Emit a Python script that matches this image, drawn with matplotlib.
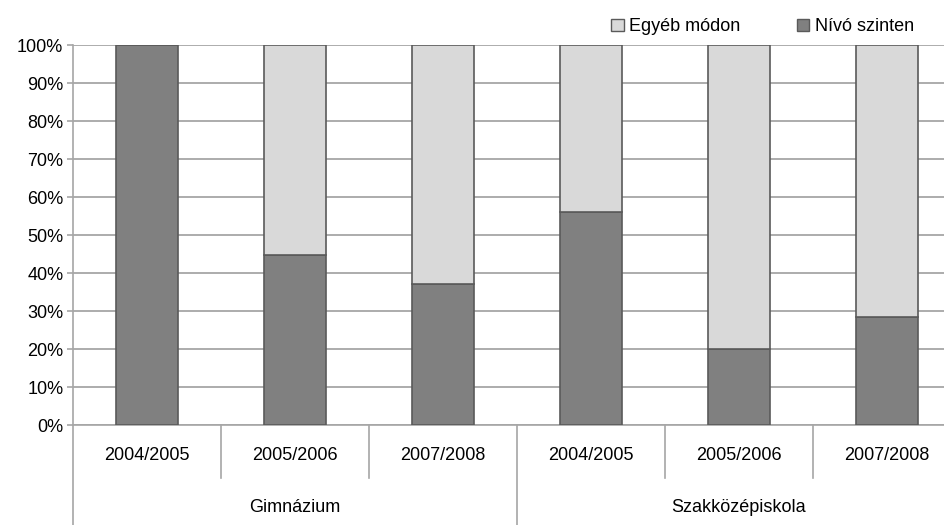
import matplotlib
matplotlib.use("Agg")
import matplotlib.pyplot as plt
import matplotlib.transforms as mtransforms
from matplotlib.patches import Patch

groups = ["Gimnázium", "Szakközépiskola"]
years = ["2004/2005", "2005/2006", "2007/2008"]
nivo = [100.0, 44.8, 37.0, 56.0, 20.1, 28.3]
egyeb = [0.0, 55.2, 63.0, 44.0, 79.9, 71.7]
series_names = ["Egyéb módon", "Nívó szinten"]
yticks = [0, 10, 20, 30, 40, 50, 60, 70, 80, 90, 100]

plt.rcParams['font.family'] = ['Liberation Sans Narrow', 'Liberation Sans', 'DejaVu Sans']

dark = "#808080"
light = "#d9d9d9"
edge = "#5a5a5a"
grid = "#a6a6a6"

fig = plt.figure(figsize=(9.45, 5.25), dpi=100)
W, H = 945, 525
left, right, top, bottom = 73, 961, 45, 425
ax = fig.add_axes([left / W, 1 - bottom / H, (right - left) / W, (bottom - top) / H])

n = len(nivo)
x = list(range(n))
bw = 0.42
ax.bar(x, nivo, width=bw, color=dark, edgecolor=edge, linewidth=1.2, zorder=3)
ax.bar(x, egyeb, width=bw, bottom=nivo, color=light, edgecolor=edge, linewidth=1.2, zorder=3)

ax.set_xlim(-0.5, n - 0.5)
ax.set_ylim(0, 100)
ax.set_yticks(yticks)
ax.set_yticklabels([f"{v}%" for v in yticks], fontsize=13)
ax.yaxis.grid(True, color=grid, linewidth=1.3, zorder=0)
ax.tick_params(axis='y', length=4, color=grid, width=1.2, pad=3)
ax.tick_params(axis='x', length=0, labelbottom=False)
for s in ["top", "right"]:
    ax.spines[s].set_visible(False)
ax.spines["left"].set_color(grid)
ax.spines["left"].set_linewidth(1.2)
ax.spines["bottom"].set_color(grid)
ax.spines["bottom"].set_linewidth(1.2)

trans = mtransforms.blended_transform_factory(ax.transData, ax.transAxes)
ph = (bottom - top)
yr_sep = -(478 - bottom) / ph
full_sep = -(H - bottom) / ph
yr_lab = -(456 - bottom) / ph
grp_lab = -(508 - bottom) / ph

ax.plot([-0.5, -0.5], [0, full_sep], transform=trans, color=grid, lw=1.2, clip_on=False)
ng = len(groups)
ny = len(years)
for i in range(n):
    ax.text(i, yr_lab, years[i % ny], transform=trans, ha="center", va="center", fontsize=13)
    if i < n - 1:
        xb = i + 0.5
        if (i + 1) % ny == 0:
            ax.plot([xb, xb], [0, full_sep], transform=trans, color=grid, lw=1.2, clip_on=False)
        else:
            ax.plot([xb, xb], [0, yr_sep], transform=trans, color=grid, lw=1.2, clip_on=False)
for g in range(ng):
    cx = g * ny + (ny - 1) / 2
    ax.text(cx, grp_lab, groups[g], transform=trans, ha="center", va="center", fontsize=13)

handles = [Patch(facecolor=light, edgecolor=edge, linewidth=1.0),
           Patch(facecolor=dark, edgecolor=edge, linewidth=1.0)]
fig.legend(handles, series_names, ncol=2, loc="upper right", bbox_to_anchor=(930 / W, 1 - 2 / H),
           frameon=False, fontsize=13, handlelength=0.7, handleheight=0.7, handletextpad=0.3,
           columnspacing=3.1)

fig.savefig("out.png", dpi=100)
